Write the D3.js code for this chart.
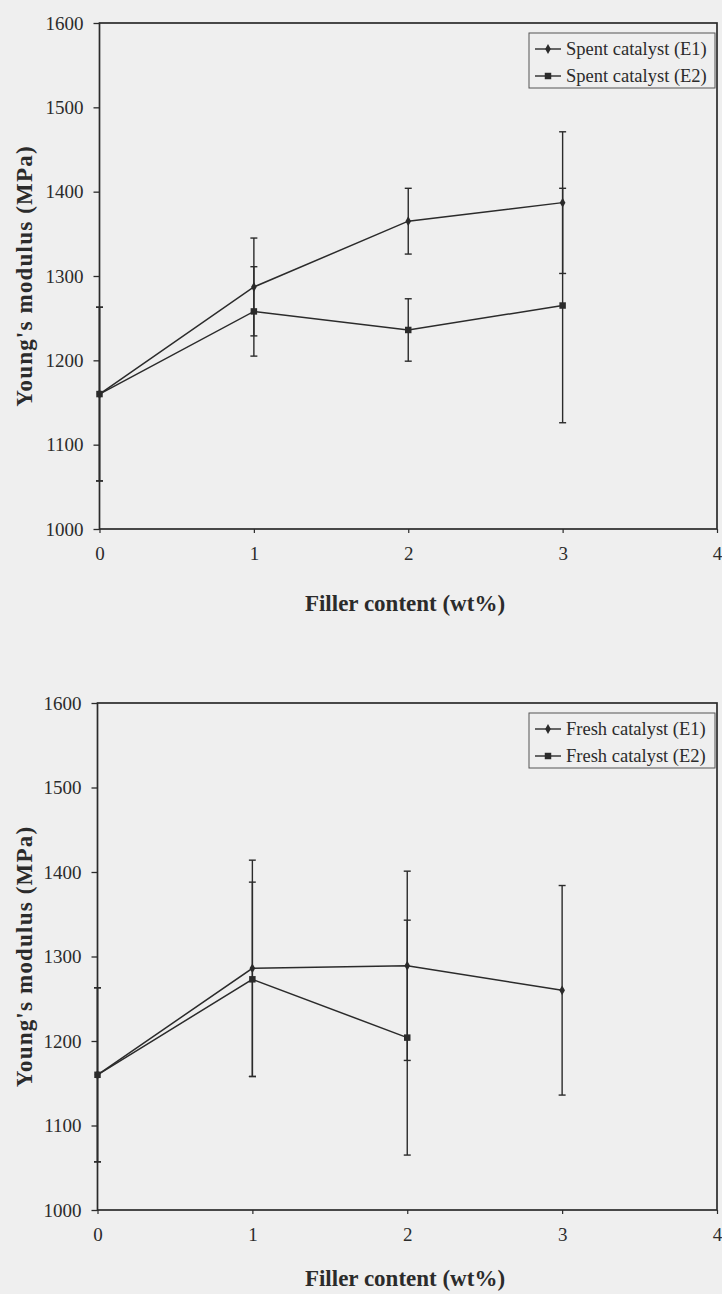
<!DOCTYPE html>
<html><head><meta charset="utf-8">
<script src="https://cdn.jsdelivr.net/npm/d3@7"></script>
<style>
html,body{margin:0;padding:0;background:#efefef;}
svg{display:block;}
</style></head>
<body>
<svg id="c" width="722" height="1294"></svg>
<script>
// ---- data ----
const fillerContent = [0, 1, 2, 3];
const xTicks = [0, 1, 2, 3, 4];
const yTicks = [1000, 1100, 1200, 1300, 1400, 1500, 1600];

const spentE1 = [1160, 1287, 1365, 1387];
const spentE1Err = [103, 58, 39, 84];
const spentE2 = [1160, 1258, 1236, 1265];
const spentE2Err = [103, 53, 37, 139];

const freshE1 = [1160, 1286, 1289, 1260];
const freshE1Err = [103, 128, 112, 124];
const freshE2 = [1160, 1273, 1204];
const freshE2Err = [103, 115, 139];

const panels = [
  {top: 23, bottom: 529, left: 99.5, right: 717, titleGap: 82,
   series: [
     {name: "Spent catalyst (E1)", values: spentE1, err: spentE1Err, marker: "diamond"},
     {name: "Spent catalyst (E2)", values: spentE2, err: spentE2Err, marker: "square"}
   ]},
  {top: 703, bottom: 1210, left: 97.5, right: 717, titleGap: 76,
   series: [
     {name: "Fresh catalyst (E1)", values: freshE1, err: freshE1Err, marker: "diamond"},
     {name: "Fresh catalyst (E2)", values: freshE2, err: freshE2Err, marker: "square"}
   ]}
];

const ink = "#2b2b2b";
const font = "'Liberation Serif','Times New Roman',serif";
const svg = d3.select("#c");

panels.forEach(p => {
  const x = d3.scaleLinear().domain([0, 4]).range([p.left, p.right]);
  const y = d3.scaleLinear().domain([1000, 1600]).range([p.bottom, p.top]);
  const g = svg.append("g");

  // frame
  g.append("rect").attr("x", p.left).attr("y", p.top)
    .attr("width", p.right - p.left).attr("height", p.bottom - p.top)
    .attr("fill", "none").attr("stroke", ink).attr("stroke-width", 1.7);

  // y axis
  const ya = g.append("g").attr("transform", `translate(${p.left},0)`)
    .call(d3.axisLeft(y).tickValues(yTicks).tickSize(6).tickPadding(10).tickFormat(d3.format("d")));
  ya.select(".domain").remove();
  ya.selectAll("line").attr("stroke", ink).attr("stroke-width", 1.3);
  ya.selectAll("text").attr("font-family", font).attr("font-size", 19).attr("fill", ink);

  // x axis
  const xa = g.append("g").attr("transform", `translate(0,${p.bottom})`)
    .call(d3.axisBottom(x).tickValues(xTicks).tickSize(4).tickPadding(14).tickFormat(d3.format("d")));
  xa.select(".domain").remove();
  xa.selectAll("line").attr("stroke", ink).attr("stroke-width", 1.2);
  xa.selectAll("text").attr("font-family", font).attr("font-size", 19).attr("fill", ink);

  // axis titles
  g.append("text")
    .attr("transform", `translate(32,${(p.top + p.bottom) / 2}) rotate(-90)`)
    .attr("text-anchor", "middle")
    .attr("font-family", font).attr("font-weight", "bold").attr("font-size", 23)
    .attr("letter-spacing", 1.2).attr("fill", ink)
    .text("Young's modulus (MPa)");
  g.append("text")
    .attr("x", 405).attr("y", p.bottom + p.titleGap)
    .attr("text-anchor", "middle")
    .attr("font-family", font).attr("font-weight", "bold").attr("font-size", 23)
    .attr("fill", ink)
    .text("Filler content (wt%)");

  // series
  const line = d3.line().x((d, i) => x(fillerContent[i])).y(d => y(d));
  p.series.forEach(s => {
    // error bars
    s.values.forEach((v, i) => {
      const cx = x(fillerContent[i]);
      const hi = y(v + s.err[i]), lo = y(v - s.err[i]);
      g.append("line").attr("x1", cx).attr("x2", cx).attr("y1", hi).attr("y2", lo)
        .attr("stroke", ink).attr("stroke-width", 1.4);
      [hi, lo].forEach(yy => g.append("line").attr("x1", cx - 3.5).attr("x2", cx + 3.5)
        .attr("y1", yy).attr("y2", yy).attr("stroke", ink).attr("stroke-width", 1.4));
    });
    g.append("path").datum(s.values).attr("d", line)
      .attr("fill", "none").attr("stroke", ink).attr("stroke-width", 1.5);
    const sym = d3.symbol().type(s.marker === "square" ? d3.symbolSquare : d3.symbolDiamond)
      .size(s.marker === "square" ? 42 : 28);
    s.values.forEach((v, i) => {
      g.append("path").attr("d", sym())
        .attr("transform", `translate(${x(fillerContent[i])},${y(v)})`)
        .attr("fill", ink);
    });
  });

  // legend
  const lx = 529, ly = p.top + 10, lw = 186, lh = 55;
  g.append("rect").attr("x", lx).attr("y", ly).attr("width", lw).attr("height", lh)
    .attr("fill", "#efefef").attr("stroke", "#555").attr("stroke-width", 1);
  p.series.forEach((s, i) => {
    const ry = ly + 16 + i * 27;
    g.append("line").attr("x1", lx + 6).attr("x2", lx + 32).attr("y1", ry).attr("y2", ry)
      .attr("stroke", ink).attr("stroke-width", 1.4);
    const sym = d3.symbol().type(s.marker === "square" ? d3.symbolSquare : d3.symbolDiamond)
      .size(s.marker === "square" ? 42 : 28);
    g.append("path").attr("d", sym()).attr("transform", `translate(${lx + 19},${ry})`).attr("fill", ink);
    g.append("text").attr("x", lx + 37).attr("y", ry + 6)
      .attr("font-family", font).attr("font-size", 18.5).attr("fill", ink)
      .text(s.name);
  });
});
</script>
</body></html>
